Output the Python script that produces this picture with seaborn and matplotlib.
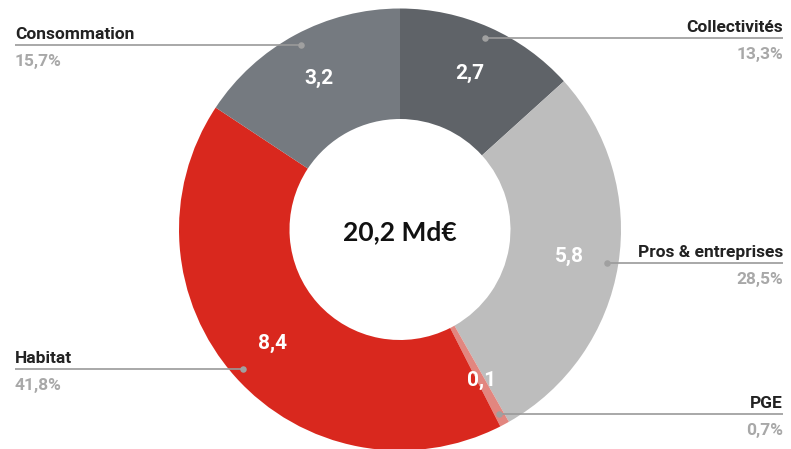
import numpy as np
import matplotlib
matplotlib.use("Agg")
import matplotlib.pyplot as plt
import seaborn as sns

# ---- data ----
categories = ["Collectivités", "Pros & entreprises", "PGE", "Habitat", "Consommation"]
amounts = [2.7, 5.8, 0.1, 8.4, 3.2]           # Md€
shares = [13.3, 28.5, 0.7, 41.8, 15.7]        # %
total_label = "20,2 Md€"
colors = ["#5f6368", "#bdbdbd", "#e2867f", "#d9281e", "#757a80"]

sns.set_theme(style="white")
plt.rcParams['font.family'] = ['Roboto', 'DejaVu Sans']

W, H = 791, 449
fig = plt.figure(figsize=(W / 100, H / 100), dpi=100)
ax = fig.add_axes([0, 0, 1, 1])

cx, cy = 400, H - 229.5
R = 221
wedges, _ = ax.pie(shares, colors=colors, startangle=90, counterclock=False,
                   radius=R, center=(cx, cy), frame=True,
                   wedgeprops=dict(width=R * 0.5, linewidth=0))
ax.set_xlim(0, W)
ax.set_ylim(0, H)
ax.set_aspect("equal")
ax.axis("off")

def fmt(v, d=1):
    return f"{v:.{d}f}".replace(".", ",")

for w, cat, amt, sh in zip(wedges, categories, amounts, shares):
    mid = np.deg2rad((w.theta1 + w.theta2) / 2)
    # value label inside the ring
    lx = cx + 0.775 * R * np.cos(mid)
    ly = cy + 0.775 * R * np.sin(mid)
    ax.text(lx, ly, fmt(amt), ha="center", va="center", color="white",
            fontsize=15, fontweight="bold")
    # leader dot and line
    dx = cx + 0.95 * R * np.cos(mid)
    dy = cy + 0.95 * R * np.sin(mid)
    if dx < cx:
        tx, ha = 15, "left"
    else:
        tx, ha = 783, "right"
    ax.plot([dx, tx], [dy, dy], color="#9a9a9a", lw=1.2, solid_capstyle="butt", zorder=3)
    ax.scatter([dx], [dy], s=22, color="#a0a0a0", zorder=4, linewidths=0)
    ax.text(tx, dy + 6, cat, ha=ha, va="baseline", color="#222222",
            fontsize=12.5, fontweight="bold")
    ax.text(tx, dy - 21, fmt(sh) + "%", ha=ha, va="baseline", color="#a8a8a8",
            fontsize=12.5, fontweight="bold")

ax.text(cx, cy - 3, total_label, ha="center", va="center", color="#111111",
        fontsize=19, family=["Lato", "DejaVu Sans"], fontweight="bold")

fig.savefig("out.png", dpi=100, facecolor="white")
